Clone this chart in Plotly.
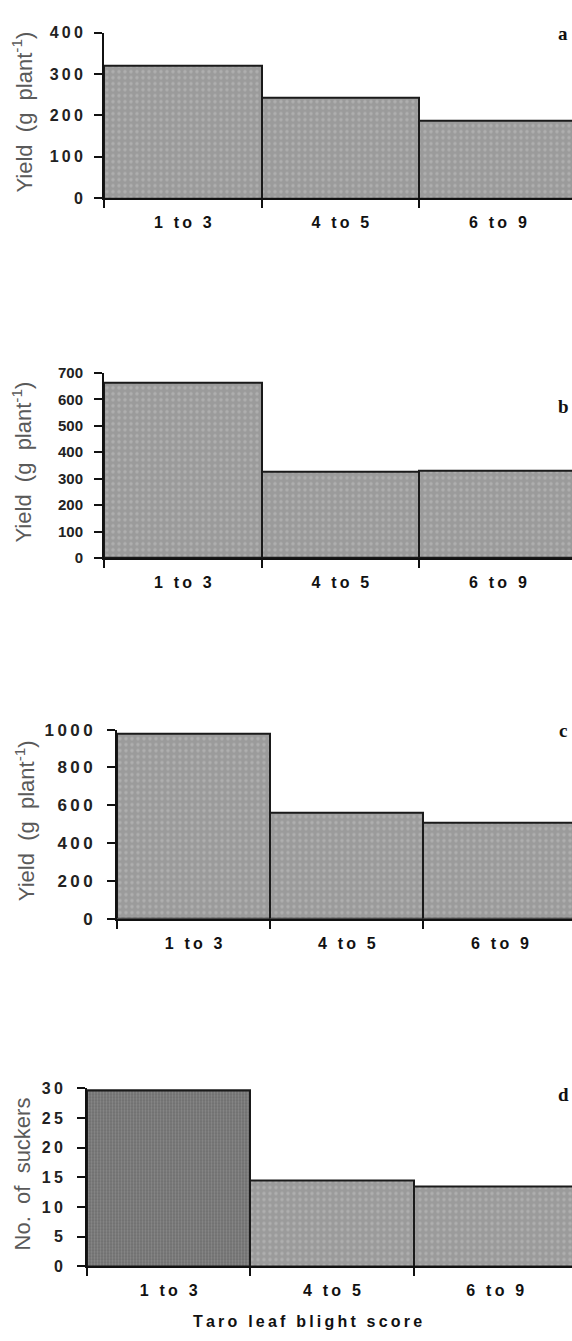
import plotly.graph_objects as go

# Yield / sucker data by taro leaf blight score class
categories = ["1 to 3", "4 to 5", "6 to 9"]
yield_a = [320, 243, 188]
yield_b = [662, 327, 330]
yield_c = [979, 562, 510]
suckers_d = [29.6, 14.5, 13.4]

ticks_a = [0, 100, 200, 300, 400]
ticks_b = [0, 100, 200, 300, 400, 500, 600, 700]
ticks_c = [0, 200, 400, 600, 800, 1000]
ticks_d = [0, 5, 10, 15, 20, 25, 30]

panel_letters = ["a", "b", "c", "d"]
yield_title = "Yield\u00a0\u00a0(g\u00a0\u00a0plant<sup>-1</sup>)"
suckers_title = "No.\u00a0\u00a0of\u00a0\u00a0suckers"
x_title = "Taro leaf blight score"

W, H = 572, 1341
THIN = "\u2009"


def spaced(s, sep=THIN):
    return sep.join(s)


def fx(p):
    return p / W


def fy(p):
    return 1 - p / H


SANS = "Liberation Sans, Arial, Helvetica, sans-serif"
SERIF = "Liberation Serif, Times New Roman, serif"

# pixel layout of each panel: left edge, bottom, top, tick font size, spacing
panels = [
    dict(vals=yield_a, ticks=ticks_a, left=104, bottom=192, top=24, rng=400,
         tsize=16, tsep=THIN, ystand=8, title=yield_title, tx=22, letter_y=25),
    dict(vals=yield_b, ticks=ticks_b, left=104, bottom=557, top=369, rng=700,
         tsize=15, tsep="", ystand=8, title=yield_title, tx=22, letter_y=403),
    dict(vals=yield_c, ticks=ticks_c, left=117, bottom=922.7, top=731, rng=1000,
         tsize=17, tsep=THIN, ystand=11, title=yield_title, tx=25, letter_y=732),
    dict(vals=suckers_d, ticks=ticks_d, left=87, bottom=1275.3, top=1095, rng=30,
         tsize=16, tsep=THIN, ystand=11, title=suckers_title, tx=22, letter_y=1101),
]

xlabels = [spaced(c) for c in categories]

BAR_FILL = "#9b9b9b"
BAR_DOTS = "#c3c3c3"
DARK_FILL = "#6c6c6c"
DARK_DOTS = "#a6a6a6"

fig = go.Figure()
annotations = []

for i, p in enumerate(panels):
    n = "" if i == 0 else str(i + 1)
    xa, ya = "x" + n, "y" + n

    fig.add_trace(go.Bar(
        x=xlabels, y=p["vals"], width=1.0,
        xaxis=xa, yaxis=ya, showlegend=False,
        marker=dict(
            color=BAR_FILL,
            line=dict(color="#1a1a1a", width=2),
            pattern=dict(shape=".", fgcolor=BAR_DOTS, size=6, solidity=0.25,
                         fillmode="overlay"),
        ),
    ))
    if i == 3:
        # darker, finer texture on the first sucker bar
        fig.add_trace(go.Bar(
            x=xlabels[:1], y=p["vals"][:1], width=1.0,
            xaxis=xa, yaxis=ya, showlegend=False,
            marker=dict(
                color=DARK_FILL,
                line=dict(color="#1a1a1a", width=2),
                pattern=dict(shape=".", fgcolor=DARK_DOTS, size=3, solidity=0.45,
                             fillmode="overlay"),
            ),
        ))

    xdom = [fx(p["left"]), 1.0]
    ydom = [fy(p["bottom"]), fy(p["top"])]
    fig.update_layout(**{
        "xaxis" + n: dict(
            domain=xdom, anchor=ya, type="category",
            range=[-0.5, 2.47], tickson="boundaries",
            ticks="outside", ticklen=8, tickwidth=1.5, tickcolor="#111",
            showline=True, linecolor="#111", linewidth=2,
            showgrid=False, zeroline=False, ticklabelstandoff=9,
            tickfont=dict(family=SANS, size=16, color="#111", weight="bold"),
        ),
        "yaxis" + n: dict(
            domain=ydom, anchor=xa, range=[0, p["rng"]],
            tickmode="array", tickvals=p["ticks"],
            ticktext=[spaced(str(t), p["tsep"]) if p["tsep"] else str(t) for t in p["ticks"]],
            ticks="outside", ticklen=8, tickwidth=1.5, tickcolor="#111",
            showline=True, linecolor="#111", linewidth=2,
            showgrid=False, zeroline=False, ticklabelstandoff=p["ystand"],
            tickfont=dict(family=SANS, size=p["tsize"], color="#222", weight="bold"),
        ),
    })

    # rotated y-axis title
    annotations.append(dict(
        text=p["title"], xref="paper", yref="paper",
        x=fx(p["tx"]), y=fy((p["top"] + p["bottom"]) / 2 - 3),
        xanchor="center", yanchor="middle", textangle=-90, showarrow=False,
        font=dict(family=SANS, size=22, color="#5a5a5a"),
    ))
    # panel letter
    annotations.append(dict(
        text=panel_letters[i], xref="paper", yref="paper",
        x=fx(563), y=fy(p["letter_y"]), xanchor="center", yanchor="middle",
        showarrow=False, font=dict(family=SERIF, size=19, color="#111", weight="bold"),
    ))

annotations.append(dict(
    text=spaced(x_title), xref="paper", yref="paper",
    x=fx(307), y=fy(1331), xanchor="center", yanchor="middle", showarrow=False,
    font=dict(family=SANS, size=16, color="#111", weight="bold"),
))

fig.update_layout(
    width=W, height=H,
    margin=dict(l=0, r=0, t=0, b=0),
    paper_bgcolor="white", plot_bgcolor="white",
    bargap=0, barmode="overlay", annotations=annotations,
)

fig.write_html("out.html")
